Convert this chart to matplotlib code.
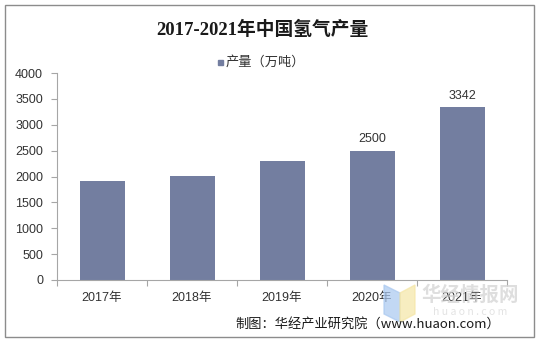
import matplotlib
matplotlib.use('Agg')
import matplotlib.pyplot as plt
from matplotlib.patches import Rectangle, Polygon

plt.rcParams['font.family'] = ['Noto Sans CJK SC', 'DejaVu Sans']

years = ['2017年', '2018年', '2019年', '2020年', '2021年']
output = [1915, 2010, 2305, 2500, 3342]
labels = ['', '', '', '2500', '3342']
yticks = [0, 500, 1000, 1500, 2000, 2500, 3000, 3500, 4000]

bar_color = '#737ea0'
axis_color = '#a6a6a6'
num_font = ['Liberation Sans', 'Noto Sans CJK SC']

fig = plt.figure(figsize=(5.39, 3.41), dpi=100)
W, H = 539, 341

# outer frame
fig.patches.append(Rectangle((5 / W, 4 / H), 529 / W, 332 / H, transform=fig.transFigure,
                             fill=False, edgecolor='#8c8c8c', linewidth=1.0))

ax = fig.add_axes([57 / W, 61 / H, 450 / W, 207 / H])
x = range(len(years))
bars = ax.bar(x, output, width=0.5, color=bar_color, zorder=2)
for b, lab in zip(bars, labels):
    if lab:
        ax.text(b.get_x() + b.get_width() / 2, b.get_height() + 100, lab,
                ha='center', va='bottom', fontsize=9, family=num_font, color='#333333')

ax.set_xlim(-0.5, len(years) - 0.5)
ax.set_ylim(0, 4000)
ax.set_yticks(yticks)
ax.set_yticklabels([str(t) for t in yticks], family=num_font, fontsize=9)
ax.set_xticks([i - 0.5 for i in range(len(years) + 1)], minor=False)
ax.set_xticklabels([])
ax.set_xticks(list(x), minor=True)
ax.set_xticklabels(years, minor=True, fontsize=9, family=num_font)
ax.tick_params(axis='x', which='major', length=4, color=axis_color, direction='out')
ax.tick_params(axis='x', which='minor', length=0, pad=9, labelcolor='#333333')
ax.tick_params(axis='y', length=4, color=axis_color, pad=6, labelcolor='#333333')
for s in ['top', 'right']:
    ax.spines[s].set_visible(False)
for s in ['left', 'bottom']:
    ax.spines[s].set_color(axis_color)
    ax.spines[s].set_linewidth(0.8)

# title and legend
fig.text(262 / W, 1 - 30 / H, '2017-2021年中国氢气产量', ha='center', va='center',
         fontsize=13.5, fontweight='bold', color='#1a1a1a',
         family=['Liberation Serif', 'Noto Sans CJK SC'])
fig.patches.append(Rectangle((218 / W, 1 - 65 / H), 5 / W, 5 / H, transform=fig.transFigure,
                             color=bar_color))
fig.text(226 / W, 1 - 62 / H, '产量（万吨）', ha='left', va='center', fontsize=9.5, color='#333333')

# watermark
fig.patches.append(Polygon([(384 / W, 1 - 285 / H), (400 / W, 1 - 293 / H), (400 / W, 1 - 322 / H),
                            (384 / W, 1 - 314 / H)], closed=True, transform=fig.transFigure,
                           color='#a9c8f0', alpha=0.7, zorder=1))
fig.patches.append(Polygon([(400 / W, 1 - 293 / H), (415 / W, 1 - 285 / H), (415 / W, 1 - 314 / H),
                            (400 / W, 1 - 322 / H)], closed=True, transform=fig.transFigure,
                           color='#f5e6a6', alpha=0.7, zorder=1))
fig.text(470 / W, 1 - 295 / H, '华经情报网', ha='center', va='center', fontsize=14,
         fontweight='bold', color='#d4d4d4', alpha=0.75, zorder=1)
fig.text(470 / W, 1 - 312 / H, 'h u a o n . c o m', ha='center', va='center', fontsize=7.5,
         color='#dadada', alpha=0.75, zorder=1)

# source
fig.text(500 / W, 1 - 324 / H, '制图：华经产业研究院（www.huaon.com）', ha='right', va='center',
         fontsize=9.5, color='#1a1a1a')

fig.savefig('out.png', dpi=100)
